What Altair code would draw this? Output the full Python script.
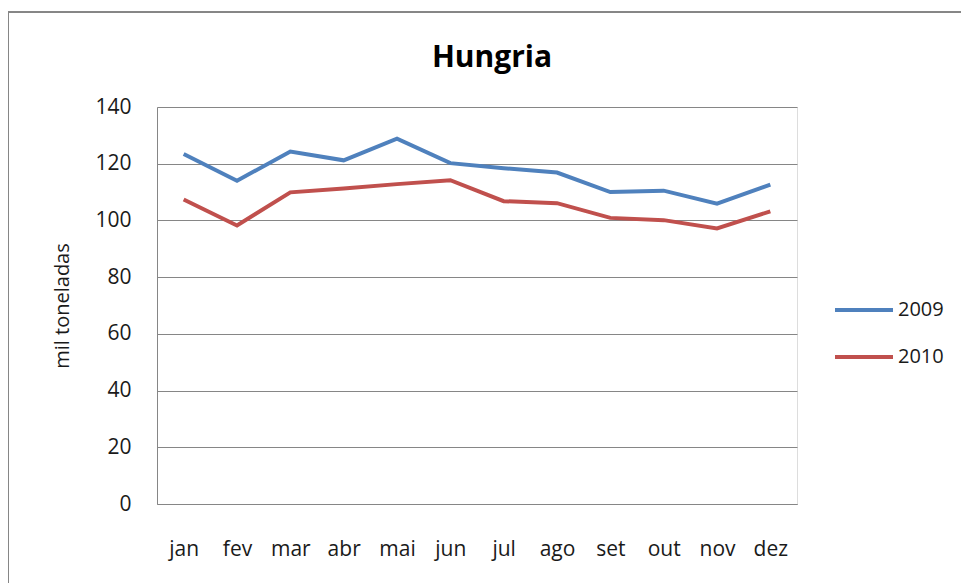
import altair as alt
import pandas as pd

months = ["jan", "fev", "mar", "abr", "mai", "jun", "jul", "ago", "set", "out", "nov", "dez"]
series_2009 = [123.4, 114.0, 124.3, 121.2, 128.8, 120.2, 118.4, 116.9, 110.0, 110.5, 105.9, 112.6]
series_2010 = [107.4, 98.2, 109.9, 111.3, 112.8, 114.2, 106.8, 106.1, 100.9, 100.1, 97.2, 103.2]
years = ["2009", "2010"]
colors = ["#4F81BD", "#C0504D"]
y_ticks = [0, 20, 40, 60, 80, 100, 120, 140]
title_text = "Hungria"

rows = []
for m, v in zip(months, series_2009):
    rows.append({"mes": m, "ano": "2009", "valor": v})
for m, v in zip(months, series_2010):
    rows.append({"mes": m, "ano": "2010", "valor": v})
df = pd.DataFrame(rows)

FONT = "Open Sans"

lines = alt.Chart(df).mark_line(strokeWidth=4).encode(
    x=alt.X("mes:N", sort=months, scale=alt.Scale(type="point", padding=0.5),
            axis=alt.Axis(title=None, labelAngle=0, ticks=False, grid=False,
                          domainColor="#868686", labelPadding=34, labelFontSize=21,
                          labelColor="#1a1a1a", labelFont=FONT)),
    y=alt.Y("valor:Q", scale=alt.Scale(domain=[0, 140], nice=False),
            axis=alt.Axis(title="mil  toneladas", values=y_ticks, ticks=False,
                          domainColor="#868686", gridColor="#868686", gridOpacity=1,
                          labelPadding=26, labelFontSize=21, labelColor="#1a1a1a",
                          labelFont=FONT, titleFont=FONT, titleFontSize=20,
                          titleFontWeight="normal", titleColor="#1a1a1a", titlePadding=22)),
    color=alt.Color("ano:N", scale=alt.Scale(domain=years, range=colors),
                    legend=alt.Legend(title=None, orient="none", legendX=676, legendY=172,
                                      symbolType="stroke", symbolSize=3364,
                                      symbolStrokeWidth=4, labelFontSize=20,
                                      labelFont=FONT, labelColor="#1a1a1a",
                                      labelOffset=3, rowPadding=6)),
)

border = alt.Chart(df).mark_rect(fill=None, stroke="#868686", strokeWidth=1).encode(
    x=alt.value(-149), x2=alt.value(808), y=alt.value(-95), y2=alt.value(500)
)

title = alt.Chart(pd.DataFrame({"t": [title_text]})).mark_text(
    font=FONT, fontSize=30, fontWeight="bold", color="#000000",
    align="center", baseline="alphabetic"
).encode(x=alt.value(335), y=alt.value(-40), text="t:N")

chart = alt.layer(border, lines, title).properties(
    width=640, height=397,
    autosize=alt.AutoSizeParams(type="none"),
    padding={"left": 149, "top": 99, "right": 164, "bottom": 79},
).configure_view(stroke=None).configure(background="white")

chart.save("out.html", embed_options={"renderer": "svg", "actions": False})
